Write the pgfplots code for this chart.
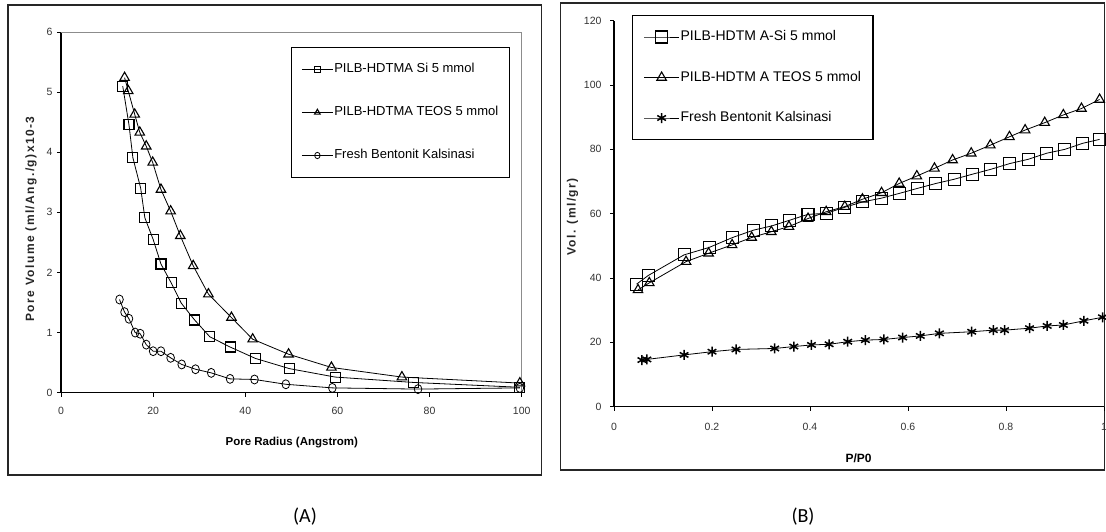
\documentclass[border=0pt]{standalone}
\usepackage{fontspec}
\setmainfont{Liberation Sans}
\newfontfamily\spaced[LetterSpace=12]{Liberation Sans}
\newfontfamily\capfont{Carlito}
\usepackage{pgfplots}
\pgfplotsset{compat=1.18}

\pgfplotsset{
  panel/.style={
    scale only axis, axis lines=left, axis line style={-, line width=1.1pt},
    tick align=outside, major tick length=4pt,
    tick style={black, line width=0.8pt},
    tick label style={font=\fontsize{10.5}{12}\selectfont, text=black!80},
    /pgf/number format/assume math mode=true,
    clip=false, legend cell align=left,
  },
  series/.style={black, line width=0.8pt,
    mark options={solid, fill=white, line width=1.1pt}},
  legA/.style={legend image code/.code={\draw[mark repeat=2, mark phase=2, ##1, mark size=3.2pt, line width=0.8pt]
    plot coordinates {(0pt,0pt) (15.5pt,0pt) (31pt,0pt)};}},
  legB/.style={legend image code/.code={\draw[mark repeat=2, mark phase=2, ##1, line width=0.8pt]
    plot coordinates {(0pt,0pt) (17.5pt,0pt) (35pt,0pt)};}},
}

\begin{document}
\begin{tikzpicture}[x=1pt,y=1pt]
\useasboundingbox (0,0) rectangle (1106,532);
\draw[black!85, line width=1.6pt] (8,57) rectangle (541.5,527);
\draw[black!85, line width=1.6pt] (560.5,62) rectangle (1104.5,529);

% ---------- (A) pore size distribution
\begin{axis}[panel,
  at={(61pt,139.3pt)}, anchor=south west,
  width=460.7pt, height=360.7pt,
  xmin=0, xmax=100, ymin=0, ymax=6,
  xtick={0,20,40,60,80,100}, ytick={0,1,2,3,4,5,6},
  xticklabel style={yshift=-7pt},
  yticklabel style={xshift=-1pt},
  xlabel={\bfseries Pore Radius (Angstrom)},
  xlabel style={font=\fontsize{11.5}{13}\selectfont, at={(axis description cs:0.501,-0.1395)}, anchor=center},
  ylabel={\spaced\bfseries Pore Volume (ml/Ang./g)x10-3},
  ylabel style={font=\fontsize{12}{14}\selectfont, at={(axis description cs:-0.0651,0.4816)}, anchor=center, text=black!85},
  legend style={at={(0.499,0.958)}, anchor=north west, draw=black, line width=1.2pt,
    font=\fontsize{13}{15}\selectfont, row sep=29.5pt, inner xsep=10pt, inner ysep=15pt,
    nodes={inner sep=1pt, text height=9pt, text depth=2.5pt}},
]
\draw[black!45, line width=0.8pt] (rel axis cs:0,1) -- (rel axis cs:1,1) -- (rel axis cs:1,0);

\addplot[series, legA, mark=square, mark size=5pt] coordinates {
 (13.4,5.10) (14.75,4.46) (15.6,3.91) (17.3,3.40) (18.2,2.91) (20.0,2.55)
 (21.7,2.14) (23.9,1.83) (26.1,1.49) (29.0,1.21) (32.3,0.93) (36.7,0.76)
 (42.2,0.57) (49.6,0.40) (59.5,0.26) (76.6,0.17) (99.6,0.09)
};
\addlegendentry{PILB-HDTMA Si 5 mmol}

\addplot[series, legA, mark=triangle, mark size=5.5pt] coordinates {
 (13.8,5.24) (14.6,5.02) (16.0,4.63) (17.1,4.33) (18.5,4.10) (19.9,3.83)
 (21.7,3.38) (23.8,3.02) (25.9,2.61) (28.7,2.11) (32.0,1.64) (37.0,1.25)
 (41.6,0.89) (49.4,0.64) (58.7,0.42) (74.0,0.26) (99.6,0.16)
};
\addlegendentry{PILB-HDTMA TEOS 5 mmol}

\addplot[series, legA, mark=o, mark size=4.5pt, mark options={xscale=0.85}] coordinates {
 (12.7,1.55) (13.8,1.34) (14.75,1.23) (16.1,1.00) (17.2,0.98) (18.5,0.80)
 (20.0,0.69) (21.7,0.69) (23.8,0.58) (26.2,0.47) (29.2,0.39) (32.6,0.33)
 (36.7,0.23) (42.0,0.22) (48.8,0.14) (58.9,0.08) (77.5,0.06) (99.6,0.08)
};
\addlegendentry{Fresh Bentonit Kalsinasi}
\end{axis}

% ---------- (B) adsorption isotherm
\begin{axis}[panel,
  at={(614pt,125.3pt)}, anchor=south west,
  width=490pt, height=386pt,
  xmin=0, xmax=1, ymin=0, ymax=120,
  xtick={0,0.2,0.4,0.6,0.8,1}, ytick={0,20,40,60,80,100,120},
  xticklabel style={yshift=-9pt},
  yticklabel style={xshift=-5pt},
  xlabel={\bfseries P/P0},
  xlabel style={font=\fontsize{12}{14}\selectfont, at={(axis description cs:0.499,-0.133)}, anchor=center},
  ylabel={\spaced\bfseries Vol. (ml/gr)},
  ylabel style={font=\fontsize{12}{14}\selectfont, at={(axis description cs:-0.0847,0.4914)}, anchor=center, text=black!85},
  legend style={at={(0.037,1.015)}, anchor=north west, draw=black, line width=1.2pt,
    font=\fontsize{14}{16}\selectfont, row sep=25.5pt, inner xsep=11pt, inner ysep=14pt,
    nodes={inner sep=1pt, text height=10pt, text depth=3pt}},
]
\addplot[series, legB, mark=square, mark size=6pt] coordinates {
 (0.046,38.1) (0.070,40.8) (0.143,47.2) (0.194,49.5) (0.242,52.6) (0.285,54.9)
 (0.322,56.2) (0.359,58.0) (0.396,59.8) (0.433,60.1) (0.471,62.0) (0.508,63.7)
 (0.545,64.8) (0.582,66.3) (0.620,67.9) (0.657,69.4) (0.694,70.7) (0.732,72.3)
 (0.769,73.8) (0.808,75.6) (0.845,76.9) (0.883,78.8) (0.920,80.0) (0.957,81.9)
 (0.991,83.1)
};
\addlegendentry{PILB-HDTM A-Si 5 mmol}

\addplot[series, legB, mark=triangle, mark size=5.5pt] coordinates {
 (0.049,36.3) (0.072,38.5) (0.147,45.1) (0.193,47.7) (0.241,50.3) (0.281,52.6)
 (0.321,54.4) (0.357,56.0) (0.396,58.5) (0.433,60.6) (0.471,62.2) (0.507,64.5)
 (0.546,66.5) (0.582,69.4) (0.618,71.7) (0.654,74.1) (0.691,76.7) (0.729,78.8)
 (0.768,81.3) (0.807,83.9) (0.839,86.0) (0.879,88.3) (0.917,90.7) (0.954,92.7)
 (0.991,95.5)
};
\addlegendentry{PILB-HDTM A TEOS 5 mmol}

\addplot[series, legB, mark=asterisk, mark size=5pt, mark options={line width=1.5pt}] coordinates {
 (0.057,14.5) (0.067,14.7) (0.143,16.1) (0.200,17.1) (0.249,17.8) (0.328,18.1)
 (0.367,18.7) (0.403,19.2) (0.439,19.4) (0.477,20.2) (0.513,20.7) (0.551,20.9)
 (0.589,21.5) (0.625,22.0) (0.664,22.8) (0.730,23.3) (0.774,23.8) (0.797,23.8)
 (0.848,24.4) (0.884,25.1) (0.917,25.4) (0.959,26.7) (0.997,27.8)
};
\addlegendentry{Fresh Bentonit Kalsinasi}
\end{axis}

\node[font=\capfont\fontsize{20}{24}\selectfont] at (305,15) {(A)};
\node[font=\capfont\fontsize{20}{24}\selectfont] at (803,15) {(B)};
\end{tikzpicture}
\end{document}
